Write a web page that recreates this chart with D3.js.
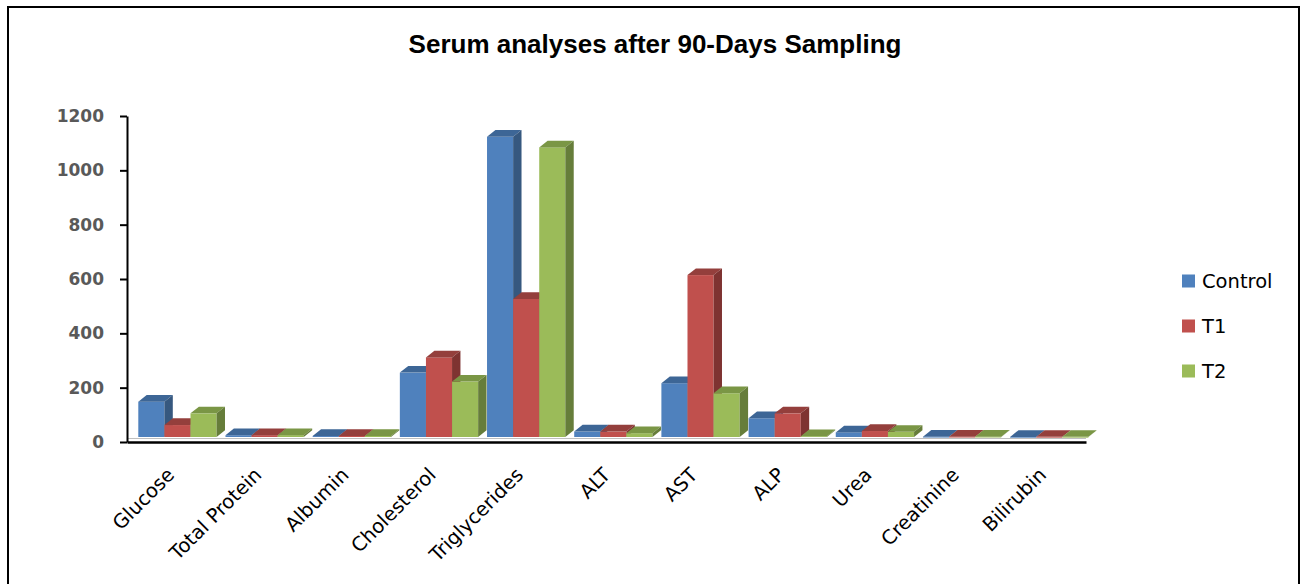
<!DOCTYPE html>
<html>
<head>
<meta charset="utf-8">
<script src="https://cdn.jsdelivr.net/npm/d3@7"></script>
<style>
  body { margin: 0; background: #fff; }
  svg { display: block; }
</style>
</head>
<body>
<div id="chart-area"></div>
<script>
// data
var categories = ["Glucose", "Total Protein", "Albumin", "Cholesterol", "Triglycerides",
    "ALT", "AST", "ALP", "Urea", "Creatinine", "Bilirubin"];
var seriesNames = ["Control", "T1", "T2"];
var control = [130, 6.5, 3.6, 237, 1105, 20, 198, 69, 17, 0.9, 0.4];
var t1 = [44, 6.8, 3.8, 293, 508, 20, 596, 87, 22, 1.0, 0.5];
var t2 = [87, 6.9, 3.9, 204, 1066, 14, 161, 3, 19, 1.1, 0.5];
var yTicks = [0, 200, 400, 600, 800, 1000, 1200];

var frontColors = ["#4f81bd", "#c0504d", "#9bbb59"];
var topColors = ["#3d6696", "#943f3c", "#7a9645"];
var sideColors = ["#36587f", "#7e3331", "#667d3a"];

var W = 1301, H = 584;
var plot = { left: 127, right: 1086, top: 116, bottom: 442 };
var depthX = 8.4, depthY = 6.7, floorLift = 5;

var svg = d3.select("#chart-area")
    .append("svg")
    .attr("width", W)
    .attr("height", H);

// outer frame
svg.append("rect")
    .attr("x", 8).attr("y", 7)
    .attr("width", 1291).attr("height", 620)
    .attr("fill", "none")
    .attr("stroke", "#000")
    .attr("stroke-width", 2);

svg.append("text")
    .attr("x", 655)
    .attr("y", 53)
    .attr("text-anchor", "middle")
    .style("font-family", "Liberation Sans, Arial, sans-serif")
    .style("font-weight", "bold")
    .style("font-size", "26px")
    .text("Serum analyses after 90-Days Sampling");

var x = d3.scaleBand()
    .domain(categories)
    .range([plot.left, plot.right])
    .padding(0);

var y = d3.scaleLinear()
    .domain([0, 1200])
    .range([plot.bottom, plot.top]);

var barW = 26.1;
var groupOffset = 11.3;

// floor edge line
svg.append("line")
    .attr("x1", plot.left).attr("x2", plot.right)
    .attr("y1", plot.bottom - 3.5).attr("y2", plot.bottom - 3.5)
    .attr("stroke", "#bfbfbf")
    .attr("stroke-width", 1);

var data = [];
categories.forEach(function(c, i) {
    [control, t1, t2].forEach(function(s, j) {
        data.push({ cat: c, s: j, value: s[i] });
    });
});

var bars = svg.append("g").selectAll("g")
    .data(data)
    .enter()
    .append("g");

function fx(d) { return x(d.cat) + groupOffset + d.s * barW; }
function fTop(d) { return y(d.value) - floorLift; }
var fBase = y(0) - floorLift;

bars.append("rect")
    .attr("x", fx)
    .attr("y", fTop)
    .attr("width", barW)
    .attr("height", d => Math.max(0.8, fBase - fTop(d)))
    .attr("fill", d => frontColors[d.s]);

bars.append("path")
    .attr("d", function(d) {
        var x0 = fx(d), yt = fTop(d);
        return "M" + x0 + "," + yt +
            "L" + (x0 + depthX) + "," + (yt - depthY) +
            "L" + (x0 + barW + depthX) + "," + (yt - depthY) +
            "L" + (x0 + barW) + "," + yt + "Z";
    })
    .attr("fill", d => topColors[d.s]);

bars.append("path")
    .attr("d", function(d) {
        var x1 = fx(d) + barW, yt = fTop(d);
        return "M" + x1 + "," + yt +
            "L" + (x1 + depthX) + "," + (yt - depthY) +
            "L" + (x1 + depthX) + "," + (fBase - depthY) +
            "L" + x1 + "," + fBase + "Z";
    })
    .attr("fill", d => sideColors[d.s]);

// y axis
var yAxis = d3.axisLeft(y)
    .tickValues(yTicks)
    .tickFormat(d3.format("d"))
    .tickSize(7)
    .tickPadding(16)
    .tickSizeOuter(0);
var gy = svg.append("g")
    .attr("transform", "translate(" + plot.left + ",0)")
    .call(yAxis);
gy.select(".domain").attr("stroke", "#000").attr("stroke-width", 2);
gy.selectAll(".tick line").attr("stroke", "#000").attr("stroke-width", 2);
gy.selectAll(".tick text")
    .attr("fill", "#595959")
    .style("font-family", "DejaVu Sans, sans-serif")
    .style("font-weight", "bold")
    .style("font-size", "17px");

// x axis
var xAxis = d3.axisBottom(x).tickSize(0).tickSizeOuter(0);
var gx = svg.append("g")
    .attr("transform", "translate(0," + plot.bottom + ")")
    .call(xAxis);
gx.select(".domain").attr("stroke", "#000").attr("stroke-width", 2.5);
gx.selectAll(".tick text")
    .attr("fill", "#000")
    .attr("text-anchor", "end")
    .attr("x", 0)
    .attr("y", 0)
    .attr("dy", 0)
    .attr("transform", "translate(5,34) rotate(-45)")
    .style("font-family", "DejaVu Sans, sans-serif")
    .style("font-size", "19.5px");

// legend
var legend = svg.append("g").selectAll("g")
    .data(seriesNames)
    .enter()
    .append("g")
    .attr("transform", (d, i) => "translate(1182," + (281 + i * 45) + ")");
legend.append("rect")
    .attr("x", 0).attr("y", -6.5)
    .attr("width", 13).attr("height", 13)
    .attr("fill", (d, i) => frontColors[i]);
legend.append("text")
    .attr("x", 20)
    .attr("y", 7)
    .style("font-family", "DejaVu Sans, sans-serif")
    .style("font-size", "19.5px")
    .attr("fill", "#000")
    .text(d => d);
</script>
</body>
</html>
